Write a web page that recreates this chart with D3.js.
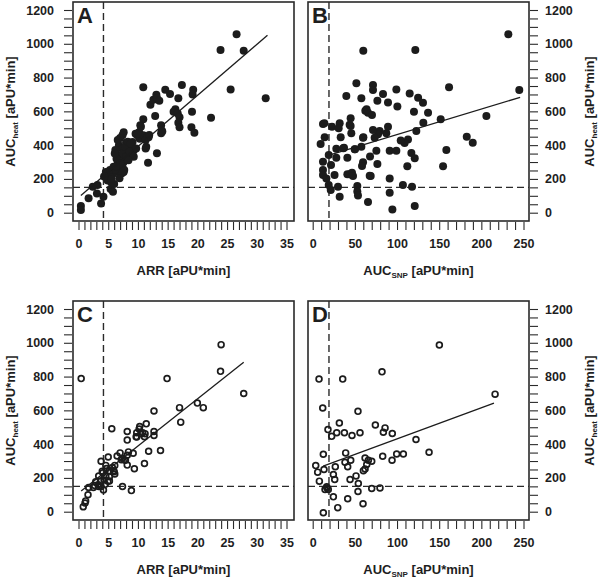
<!DOCTYPE html>
<html><head><meta charset="utf-8">
<script src="https://cdn.jsdelivr.net/npm/d3@7"></script>
<style>
body{margin:0;background:#fff}
text{font-family:"Liberation Sans",Arial,Helvetica,sans-serif;font-weight:bold;fill:#1e1e1e}
</style>
</head><body>
<svg id="chart" width="600" height="580"></svg>
<script>
// ---------- DATA ----------
const panelLabels = ["A","B","C","D"];
const arrLabelTicks = [0,5,10,15,20,25,30,35];
const snpLabelTicks = [0,50,100,150,200,250];
const aucLabelTicks = [0,200,400,600,800,1000,1200];
const arrThreshold = 4.2;
const snpThreshold = 19.3;
const aucThreshold = 150;

// Panel A: ARR vs AUC_heat (filled)
const pointsA = [
[26.6,1056],[23.9,963],[27.8,959],[25.6,730],[31.5,677],[22.3,562],[19.3,728],[19.2,700],[17.4,756],[16.8,677],
[15.4,703],[14.6,728],[16.3,612],[16.0,598],[16.7,588],[17.0,565],[16.8,533],[17.0,506],[19.1,598],[19.0,506],
[19.5,474],[13.9,517],[14.0,487],[13.9,470],[12.9,572],[13.2,352],[11.7,296],[10.9,742],[10.9,553],[12.1,639],
[12.6,669],[13.1,699],[13.2,679],[13.6,663],[11.8,446],[11.4,391],[10.4,517],[10.2,477],[9.9,458],[9.6,467],
[10.3,438],[10.9,458],[9.1,418],[8.9,399],[8.5,383],[9.3,369],[9.1,340],[8.2,350],[7.6,477],[7.4,458],
[7.0,442],[6.8,399],[7.4,379],[8.0,414],[7.1,340],[6.8,300],[7.6,300],[7.4,271],[7.0,251],[7.6,241],
[6.6,241],[6.0,265],[5.8,231],[5.2,221],[4.6,241],[4.3,215],[4.9,190],[5.5,180],[5.4,140],[5.8,124],
[6.0,170],[3.8,55],[4.2,94],[3.1,114],[3.2,164],[2.4,154],[1.7,85],[0.4,39],[0.4,16],[5.3,253],
[5.9,272],[6.3,253],[6.6,292],[6.2,371],[6.6,430],[7.2,312],[7.45,351],[7.7,253],[7.9,390],[8.3,420],
[8.8,410],[7.3,233],[6.9,204],[8.0,331],[8.6,361],[9.3,331],[9.7,380],[10.0,470],[10.5,509],[11.3,430],
[11.6,450],[11.9,460],[11.3,380],[14.1,481],[6.4,320],[7.0,290],[5.6,200],[6.3,275],[8.4,310],[6.1,350]
];
// Panel B: AUC_SNP vs AUC_heat (filled)
const pointsB = [
[232,1056],[60,959],[121.7,963],[245,726],[161.7,742],[206,572],[182.7,450],[189.8,414],[158.5,371],[154.6,275],
[151.8,553],[12.2,525],[14.2,446],[9.4,407],[22.9,509],[32,529],[30.8,500],[45,559],[43.8,520],[45.8,470],
[33.2,446],[39.9,691],[51.8,766],[57.7,677],[62.4,604],[65.6,592],[70.3,579],[71.5,756],[71.5,726],[76.7,663],
[83.4,703],[89.3,652],[99.2,730],[100.4,628],[115,705],[120.1,598],[125,680],[130.8,651],[136.8,592],[131.2,533],
[122.9,484],[113,433],[109,413],[89.3,509],[87.3,470],[79.4,484],[77.5,464],[71.5,490],[73.5,444],[59.7,444],
[57.7,391],[49.8,375],[37.1,385],[28,379],[28,326],[19,342],[12.2,302],[21.7,282],[25.9,223],[12.2,253],
[12.2,223],[16.2,203],[19,164],[21.4,134],[30,154],[32,95],[41.1,326],[41.1,227],[43.8,227],[46.6,237],
[47.8,217],[59.7,298],[58.5,276],[67.6,219],[75.5,367],[76.7,288],[91.3,367],[99.2,367],[91.3,203],[52.9,158],
[52.9,126],[53.7,102],[65.6,63],[91.3,118],[94.5,19],[107,164],[117.8,154],[121,39],[112.2,275],[117,354],
[121,322],[104.4,428],[60.1,446],[68.8,217],[63.9,612],[45,513],[13.8,529],[36.3,381],[50.2,375],[68,332]
];
// Panel C: ARR vs AUC_heat (open)
const pointsC = [
[0.45,788],[24.0,989],[23.9,831],[27.8,700],[14.9,788],[17.0,616],[17.2,530],[20.0,643],[21.0,616],[12.7,596],
[5.6,491],[8.2,475],[8.2,424],[10.3,504],[9.8,467],[10.8,467],[11.4,520],[11.1,444],[12.7,475],[12.7,451],
[9.7,444],[11.8,358],[13.8,362],[11.1,285],[9.4,254],[8.9,125],[7.4,149],[8.2,334],[8.4,354],[9.2,346],
[7.0,348],[7.4,315],[6.5,330],[8.2,276],[7.9,305],[6.1,274],[6.0,236],[5.0,324],[5.2,242],[4.6,274],
[3.8,299],[4.0,240],[3.4,211],[3.7,182],[4.5,162],[5.2,182],[4.2,129],[2.9,178],[2.5,143],[1.7,143],
[1.6,100],[1.2,64],[0.8,29],[1.1,51],[3.4,149],[3.8,149],[4.3,188],[4.7,256],[5.7,262],[6.1,223],
[5.9,243],[10.5,462],[10.2,489],[9.8,442],[11.2,462],[2.7,155],[3.3,160],[4.1,230],[4.6,211],[4.95,181],
[5.2,207],[7.2,307],[7.7,307]
];
// Panel D: AUC_SNP vs AUC_heat (open)
const pointsD = [
[150.2,987],[82.2,828],[7.5,785],[35.6,785],[216.3,696],[11.9,614],[53.7,594],[31.6,525],[74.3,513],[85.8,496],
[83.8,470],[94.4,463],[56.1,467],[46.6,451],[37.6,467],[28.5,467],[18.1,486],[22.5,446],[122.5,427],[138,352],
[107.5,342],[99.6,342],[94.1,305],[83.0,328],[70,299],[66,305],[64.1,279],[62.1,253],[60.1,243],[62.1,318],
[45.1,305],[39.1,348],[38.3,293],[41.5,266],[26.8,266],[24.5,220],[26.1,191],[12.6,340],[3.6,273],[5.9,234],
[13.4,250],[7.9,181],[16.6,147],[14.6,131],[18.5,131],[17,140],[24.5,88],[29.7,24],[12.6,-6],[41.5,77],
[44.3,191],[51.4,212],[54.1,167],[53.7,120],[59.7,47],[70,137],[79.8,141]
];
// Fitted regression lines (end points)
const fitA = [[0.4,102],[31.8,1050]];
const fitB = [[16.6,336],[246,683]];
const fitC = [[0.45,123],[27.8,885]];
const fitD = [[12.4,270],[215,643]];

// ---------- DRAW ----------
const svg = d3.select("#chart");
const tickCol = "#2a2a2a";

function makePanel(cfg){
  const g = svg.append("g");
  const x = d3.scaleLinear().domain(cfg.xDomain).range(cfg.xRange);
  const y = d3.scaleLinear().domain([0,1200]).range(cfg.yRange);
  const bx0 = cfg.box[0], bx1 = cfg.box[1], by0 = cfg.box[2], by1 = cfg.box[3];

  const xa = d3.axisBottom(x).tickValues(cfg.xMinor).tickSize(8).tickPadding(9)
     .tickFormat(d => cfg.xLabels.includes(d) ? d : "");
  const gx = g.append("g").attr("transform",`translate(0,${by1+1})`).call(xa);
  gx.select(".domain").remove();
  gx.selectAll("line").attr("stroke",tickCol).attr("stroke-width",1.1);
  gx.selectAll("text").style("font-size","12.5px").attr("fill","#1e1e1e");

  const yMinor = d3.range(0,1201,50);
  const ya = (cfg.right ? d3.axisRight(y) : d3.axisLeft(y)).tickValues(yMinor).tickSize(8).tickPadding(cfg.right?7:10)
     .tickFormat(d => aucLabelTicks.includes(d) ? d : "");
  const gy = g.append("g").attr("transform",`translate(${cfg.right? bx1+1 : bx0-1},0)`).call(ya);
  gy.select(".domain").remove();
  gy.selectAll("line").attr("stroke",tickCol).attr("stroke-width",1.1);
  gy.selectAll("text").style("font-size","12.5px").attr("fill","#1e1e1e");

  const clipId = "clip"+cfg.label;
  svg.append("clipPath").attr("id",clipId).append("rect")
    .attr("x",bx0).attr("y",by0).attr("width",bx1-bx0).attr("height",by1-by0);
  const inner = g.append("g").attr("clip-path",`url(#${clipId})`);

  inner.append("line").attr("x1",x(cfg.xThr)).attr("x2",x(cfg.xThr)).attr("y1",by0).attr("y2",by1)
    .attr("stroke","#2a2a2a").attr("stroke-width",1.4).attr("stroke-dasharray","7,4");
  inner.append("line").attr("x1",bx0).attr("x2",bx1).attr("y1",y(aucThreshold)).attr("y2",y(aucThreshold))
    .attr("stroke","#2a2a2a").attr("stroke-width",1.4).attr("stroke-dasharray","7,4");

  inner.selectAll("circle.pt").data(cfg.points).join("circle").attr("class","pt")
    .attr("cx",d=>x(d[0])).attr("cy",d=>y(d[1]))
    .attr("r", cfg.filled ? 4 : 2.9)
    .attr("fill", cfg.filled ? "#1c1c1c" : "none")
    .attr("stroke", "#1c1c1c")
    .attr("stroke-width", cfg.filled ? 0 : 1.7);

  inner.append("path").datum(cfg.fit)
    .attr("d", d3.line().x(d=>x(d[0])).y(d=>y(d[1])))
    .attr("fill","none").attr("stroke","#1c1c1c").attr("stroke-width",1.3);

  g.append("rect").attr("x",bx0).attr("y",by0).attr("width",bx1-bx0).attr("height",by1-by0)
    .attr("fill","none").attr("stroke","#2a2a2a").attr("stroke-width",1.6);

  g.append("text").attr("x",bx0+4).attr("y",by0+21).style("font-size","22px").text(cfg.label);

  const xt = g.append("text").attr("x",(bx0+bx1)/2).attr("y",by1+54).attr("text-anchor","middle")
    .style("font-size","13px");
  if (cfg.snp){
    xt.append("tspan").text("AUC");
    xt.append("tspan").attr("dy",3).style("font-size","8px").text("SNP");
    xt.append("tspan").attr("dy",-3).text(" [aPU*min]");
  } else {
    xt.text("ARR [aPU*min]");
  }

  const yc = (by0+by1)/2;
  const tx = cfg.right ? 594 : 15;
  const yt = g.append("text").attr("transform",`translate(${tx},${yc}) rotate(-90)`).attr("text-anchor","middle")
    .style("font-size","13px");
  yt.append("tspan").text("AUC");
  yt.append("tspan").attr("dy",3).style("font-size","8px").text("heat");
  yt.append("tspan").attr("dy",-3).text(" [aPU*min]");
}

const arrMinor = d3.range(0,36,1);
const snpMinor = d3.range(0,251,10);

makePanel({label:panelLabels[0], box:[73,294,2,221], xDomain:[0,35], xRange:[78.5,286.5], yRange:[212.7,10],
  xMinor:arrMinor, xLabels:arrLabelTicks, xThr:arrThreshold, points:pointsA, fit:fitA, filled:true, right:false, snp:false});
makePanel({label:panelLabels[1], box:[308,529,2,221], xDomain:[0,250], xRange:[312.7,523.5], yRange:[212.7,10],
  xMinor:snpMinor, xLabels:snpLabelTicks, xThr:snpThreshold, points:pointsB, fit:fitB, filled:true, right:true, snp:true});
makePanel({label:panelLabels[2], box:[73,294,301,520], xDomain:[0,35], xRange:[78.5,286.5], yRange:[511.7,309],
  xMinor:arrMinor, xLabels:arrLabelTicks, xThr:arrThreshold, points:pointsC, fit:fitC, filled:false, right:false, snp:false});
makePanel({label:panelLabels[3], box:[308,529,301,520], xDomain:[0,250], xRange:[312.7,523.5], yRange:[511.7,309],
  xMinor:snpMinor, xLabels:snpLabelTicks, xThr:snpThreshold, points:pointsD, fit:fitD, filled:false, right:true, snp:true});
</script>
</body></html>
